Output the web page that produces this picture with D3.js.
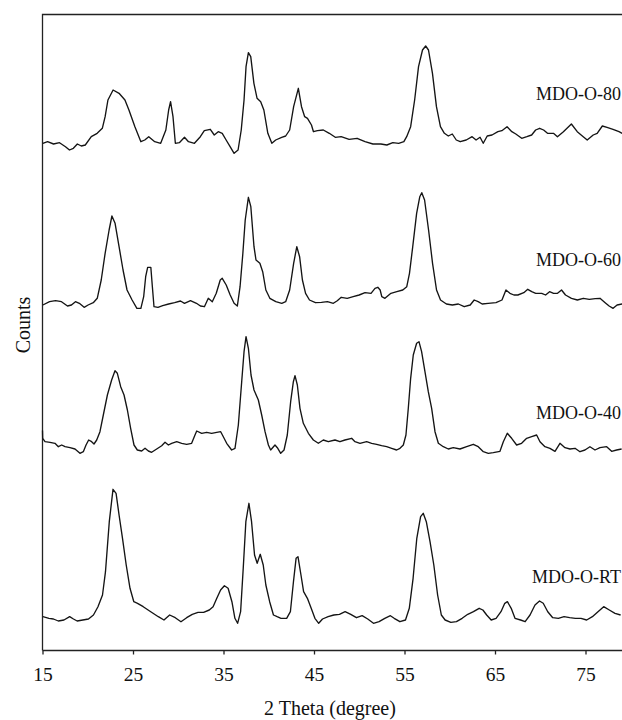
<!DOCTYPE html>
<html>
<head>
<meta charset="utf-8">
<script src="https://cdn.jsdelivr.net/npm/d3@7/dist/d3.min.js"></script>
<style>
    html, body { margin: 0; padding: 0; background: #ffffff; }
    svg { display: block; }
</style>
</head>
<body>
<script>
// 样品名称(从上到下)
var v_Labels   = ["MDO-O-80", "MDO-O-60", "MDO-O-40", "MDO-O-RT"];
// 每条曲线的纵向偏移(counts)
var v_Offsets  = [490, 340, 190, 20];
var v_XTicks   = [15, 25, 35, 45, 55, 65, 75];

// [2θ, counts]
var v_MDO_O_80 = [
    [15.04,17.2],[15.56,18.8],[16.22,16.5],[16.88,17.8],[17.54,13.8],[17.98,10.5],[18.41,12.2],[18.85,16.5],
    [19.29,14.5],[19.73,15.5],[20.39,23.8],[21.04,27.2],[21.61,32.2],[21.92,43.8],[22.23,60.5],[22.80,70.5],
    [23.46,67.2],[24.11,60.5],[24.55,50.5],[25.21,33.8],[25.87,18.8],[26.30,20.5],[26.74,23.8],[27.40,18.8],
    [28.06,17.2],[28.63,30.5],[28.94,50.5],[29.15,58.8],[29.42,43.8],[29.68,17.2],[30.12,17.8],[30.69,23.2],
    [31.13,18.8],[31.79,17.2],[32.44,23.8],[32.88,29.8],[33.54,31.2],[33.98,25.5],[34.42,28.8],[34.86,27.2],
    [35.29,20.5],[35.73,13.8],[36.17,7.2],[36.61,10.5],[36.96,30.5],[37.27,60.5],[37.49,93.8],[37.75,107.8],
    [38.01,103.8],[38.36,77.2],[38.71,62.2],[39.11,58.8],[39.46,50.5],[39.90,27.2],[40.34,17.2],[40.77,20.5],
    [41.43,23.2],[41.87,24.5],[42.31,30.5],[42.75,53.8],[43.27,72.2],[43.62,53.8],[43.97,43.8],[44.28,42.2],
    [44.72,35.5],[44.94,28.8],[45.38,29.8],[46.03,30.5],[46.69,27.2],[47.35,23.2],[48.00,23.8],[48.88,21.2],
    [49.76,22.2],[50.64,18.8],[51.51,16.5],[52.39,16.5],[53.05,15.5],[53.71,17.8],[54.36,17.2],[54.93,18.8],
    [55.24,23.8],[55.68,33.8],[56.12,60.5],[56.55,93.8],[56.99,110.5],[57.34,114.5],[57.65,110.5],[58.09,87.2],
    [58.53,53.8],[58.97,33.8],[59.41,27.2],[59.84,24.5],[60.28,26.5],[60.72,20.5],[61.16,18.8],[61.82,20.5],
    [62.47,23.8],[62.91,20.5],[63.35,23.2],[63.70,17.2],[64.14,24.5],[64.67,25.5],[65.32,28.8],[65.76,29.8],
    [66.33,33.8],[66.86,28.8],[67.30,26.5],[67.95,22.2],[68.52,23.8],[69.05,25.5],[69.49,30.5],[69.93,32.2],
    [70.37,30.5],[70.80,27.2],[71.46,27.2],[71.90,23.8],[72.56,28.8],[73.44,36.5],[74.09,28.8],[74.75,23.8],
    [75.19,20.5],[75.85,25.5],[76.29,27.2],[76.86,34.5],[77.38,33.2],[78.04,31.2],[78.70,28.8],[79.05,27.2]
];

var v_MDO_O_60 = [
    [15.04,5.5],[15.78,8.8],[16.44,9.8],[17.10,8.8],[17.76,4.5],[18.20,5.5],[18.64,8.8],[19.07,7.2],
    [19.60,3.2],[20.04,5.5],[20.61,7.8],[21.05,12.2],[21.49,30.5],[21.92,57.2],[22.36,80.5],[22.67,94.5],
    [23.02,87.2],[23.46,63.8],[23.90,40.5],[24.34,20.5],[24.90,10.5],[25.43,2.2],[25.87,2.2],[26.18,13.8],
    [26.40,33.8],[26.62,43.2],[26.97,43.2],[27.14,23.8],[27.32,3.8],[27.76,3.2],[28.28,4.8],[28.94,6.5],
    [29.60,7.8],[30.25,9.5],[30.69,7.2],[31.35,9.8],[32.01,7.2],[32.45,4.5],[32.89,3.8],[33.32,12.2],
    [33.76,8.8],[34.20,17.2],[34.64,30.5],[34.86,32.2],[35.30,25.5],[35.74,15.5],[36.17,7.2],[36.53,4.5],
    [36.83,23.8],[37.14,57.2],[37.40,90.5],[37.75,113.2],[38.02,103.8],[38.37,63.8],[38.59,50.5],[39.02,47.2],
    [39.33,38.8],[39.68,20.5],[40.12,12.2],[40.78,8.8],[41.44,7.2],[41.87,8.8],[42.31,20.5],[42.75,47.2],
    [43.10,63.8],[43.41,53.8],[43.72,30.5],[44.07,17.2],[44.50,10.5],[45.16,7.8],[45.82,8.2],[46.48,8.8],
    [47.14,7.2],[47.57,9.8],[48.01,13.2],[48.67,12.2],[49.33,13.8],[49.99,15.5],[50.64,17.8],[51.30,17.2],
    [51.74,22.2],[52.05,23.2],[52.31,20.5],[52.49,13.8],[52.84,12.2],[53.50,17.2],[54.15,18.8],[54.81,20.5],
    [55.25,23.8],[55.55,37.2],[55.91,63.8],[56.34,97.2],[56.69,113.8],[56.91,117.8],[57.22,110.5],[57.66,80.5],
    [58.10,47.2],[58.54,20.5],[58.98,10.5],[59.63,6.5],[60.29,5.5],[60.95,6.5],[61.60,3.8],[62.26,5.5],
    [62.70,10.5],[63.14,8.8],[63.58,6.5],[64.24,7.2],[65.11,7.8],[65.77,10.5],[66.21,20.5],[66.65,17.2],
    [67.09,15.5],[67.53,15.5],[68.18,17.8],[68.62,21.2],[69.06,18.8],[69.50,17.2],[70.16,17.2],[70.59,15.5],
    [71.03,18.8],[71.47,17.2],[71.91,17.2],[72.35,20.5],[72.79,15.5],[73.45,12.2],[74.10,10.5],[74.76,12.2],
    [75.42,11.2],[76.08,11.8],[76.60,12.2],[77.17,7.8],[77.61,4.5],[78.05,2.2],[78.49,5.5],[79.06,6.5]
];

var v_MDO_O_40 = [
    [15.00,30.0],[15.02,22.2],[15.28,18.8],[15.83,18.2],[16.38,17.2],[16.75,13.8],[17.12,15.5],[17.49,13.8],[18.04,12.8],
    [18.59,11.5],[19.14,7.2],[19.51,8.8],[19.81,15.5],[20.10,20.5],[20.43,18.8],[20.69,16.5],[20.99,20.5],
    [21.35,28.8],[21.72,45.5],[22.17,65.5],[22.64,80.5],[23.01,89.8],[23.27,87.2],[23.64,73.8],[24.01,65.5],
    [24.38,50.5],[24.74,32.2],[25.11,15.5],[25.48,10.5],[25.96,9.5],[26.33,12.2],[26.70,9.5],[27.06,8.2],
    [27.62,11.5],[28.17,14.8],[28.54,18.2],[28.91,15.5],[29.27,17.2],[29.83,18.8],[30.38,17.2],[30.93,16.2],
    [31.48,17.2],[31.85,25.5],[32.04,29.5],[32.59,27.2],[33.14,28.2],[33.69,27.2],[34.25,28.2],[34.69,28.8],
    [34.98,23.8],[35.35,17.2],[35.90,10.5],[36.27,12.2],[36.64,35.5],[37.01,78.8],[37.27,108.8],[37.49,123.8],
    [37.75,112.2],[38.04,85.5],[38.37,70.5],[38.85,60.5],[39.22,45.5],[39.59,28.8],[39.96,15.5],[40.21,10.5],
    [40.69,15.5],[40.95,12.8],[41.32,7.2],[41.69,10.5],[42.05,25.5],[42.42,58.8],[42.72,78.8],[42.90,84.8],
    [43.16,75.5],[43.45,52.2],[43.82,37.2],[44.38,27.2],[44.93,20.5],[45.48,17.2],[46.03,20.5],[46.58,18.8],
    [47.32,20.5],[47.87,18.8],[48.42,20.5],[49.16,22.2],[49.53,18.8],[50.08,17.2],[50.82,18.8],[51.37,17.2],
    [51.92,16.2],[52.47,14.8],[53.03,13.8],[53.58,12.2],[54.13,10.5],[54.50,12.2],[54.87,15.5],[55.16,25.5],
    [55.42,52.2],[55.68,82.2],[55.97,105.5],[56.34,117.2],[56.60,118.8],[56.89,108.8],[57.26,88.8],[57.63,68.8],
    [58.00,52.2],[58.37,28.8],[58.74,17.2],[59.29,13.8],[59.84,11.5],[60.39,12.8],[61.13,11.5],[61.87,13.8],
    [62.60,16.2],[63.15,13.8],[63.71,8.8],[64.26,7.2],[64.81,7.8],[65.55,9.2],[65.92,18.8],[66.36,27.2],
    [66.84,22.2],[67.39,15.5],[67.94,17.2],[68.50,22.2],[69.05,23.8],[69.60,25.5],[69.97,18.8],[70.52,13.8],
    [71.07,12.2],[71.63,9.2],[72.18,17.2],[72.73,12.8],[73.28,11.5],[73.84,12.2],[74.39,8.8],[74.94,10.5],
    [75.49,13.8],[76.05,10.5],[76.60,12.8],[77.34,13.8],[77.89,9.2],[78.44,10.5],[78.99,11.5]
];

var v_MDO_O_RT = [
    [15.05,13.8],[15.71,12.2],[16.21,11.5],[16.75,9.5],[17.37,10.5],[18.00,13.8],[18.42,11.5],[18.83,9.5],
    [19.46,10.5],[20.08,11.5],[20.63,15.5],[21.13,23.8],[21.63,35.5],[21.96,58.8],[22.38,108.8],[22.79,141.2],
    [23.13,137.2],[23.46,115.5],[23.84,92.2],[24.25,65.5],[24.67,42.2],[25.09,28.8],[25.50,27.2],[26.13,23.8],
    [26.96,18.8],[27.80,13.8],[28.42,10.5],[29.05,15.5],[29.67,12.8],[30.30,8.8],[30.93,12.8],[31.55,16.2],
    [32.18,18.2],[32.80,18.2],[33.43,20.5],[33.85,23.8],[34.26,32.2],[34.68,40.5],[35.10,44.8],[35.51,42.2],
    [35.93,28.8],[36.26,12.2],[36.56,7.2],[36.89,18.8],[37.18,62.2],[37.47,108.8],[37.81,127.2],[38.10,108.8],
    [38.43,75.5],[38.72,67.2],[39.06,76.2],[39.39,65.5],[39.68,45.5],[40.10,28.8],[40.52,15.5],[40.93,13.8],
    [41.35,12.2],[41.98,12.2],[42.39,18.8],[42.73,48.8],[43.02,72.2],[43.23,73.8],[43.56,55.5],[43.85,38.8],
    [44.27,32.2],[44.69,22.2],[45.10,12.2],[45.52,7.2],[45.94,11.5],[46.56,13.8],[47.19,15.5],[47.81,16.2],
    [48.44,18.8],[49.06,16.2],[49.69,12.8],[50.32,14.8],[50.94,11.5],[51.57,7.2],[52.19,8.8],[52.82,12.2],
    [53.44,14.8],[53.86,12.2],[54.49,8.8],[55.11,10.5],[55.53,22.2],[55.95,52.2],[56.36,92.2],[56.78,113.8],
    [57.07,117.2],[57.41,108.8],[57.82,88.8],[58.24,65.5],[58.66,35.5],[59.07,15.5],[59.49,10.5],[60.12,8.2],
    [60.74,8.8],[61.37,12.2],[61.99,16.2],[62.62,18.8],[63.25,22.2],[63.66,20.5],[64.08,15.5],[64.58,10.5],
    [65.12,12.2],[65.66,18.8],[66.08,27.2],[66.37,28.8],[66.79,22.2],[67.21,12.2],[67.83,10.5],[68.33,8.8],
    [68.87,15.5],[69.42,25.5],[69.92,29.5],[70.33,27.2],[70.83,18.8],[71.38,12.8],[72.00,12.2],[72.63,13.8],
    [73.25,12.8],[73.88,12.2],[74.50,12.2],[75.13,10.5],[75.76,13.8],[76.38,18.8],[77.01,23.8],[77.63,20.5],
    [78.26,17.2],[78.88,15.5]
];

var v_Series = [v_MDO_O_80, v_MDO_O_60, v_MDO_O_40, v_MDO_O_RT];


function drawChart()
{
    let v_Width  = 622;
    let v_Height = 720;
    let v_Left   = 42.5;
    let v_Top    = 14.5;
    let v_Bottom = 650.5;
    let v_Font   = "'Liberation Serif', 'Times New Roman', serif";

    let v_SVG = d3.select("body").append("svg")
        .attr("width",  v_Width)
        .attr("height", v_Height);

    // 右边框在画布之外(原图被裁切)
    let v_X = d3.scaleLinear().domain([15, 80]).range([v_Left, v_Left + 65 * 9.05]);
    let v_Y = d3.scaleLinear().domain([0, 636]).range([v_Bottom, v_Top]);

    // 边框
    v_SVG.append("path")
        .attr("d", "M" + v_Left + "," + v_Bottom + "V" + v_Top + "H" + (v_Width + 5))
        .attr("fill", "none")
        .attr("stroke", "#222")
        .attr("stroke-width", 1.3);

    // X轴
    let v_XAxis = v_SVG.append("g")
        .attr("transform", "translate(0," + v_Bottom + ")")
        .call(d3.axisBottom(v_X).tickValues(v_XTicks).tickSize(4).tickPadding(13).tickFormat(d3.format("d")));

    v_XAxis.select(".domain")
        .attr("d", "M" + v_Left + ",0H" + (v_Width + 5))
        .attr("stroke", "#222")
        .attr("stroke-width", 1.3);
    v_XAxis.selectAll(".tick line").attr("stroke", "#222").attr("stroke-width", 1.3);
    v_XAxis.selectAll(".tick text")
        .attr("fill", "#111")
        .style("font-family", v_Font)
        .style("font-size", "19.5px");

    v_SVG.append("text")
        .attr("x", 330)
        .attr("y", 715)
        .attr("text-anchor", "middle")
        .attr("fill", "#111")
        .style("font-family", v_Font)
        .style("font-size", "20px")
        .text("2 Theta (degree)");

    v_SVG.append("text")
        .attr("transform", "translate(29.5,325) rotate(-90)")
        .attr("text-anchor", "middle")
        .attr("fill", "#111")
        .style("font-family", v_Font)
        .style("font-size", "20px")
        .text("Counts");

    // 曲线
    for (let i = 0; i < v_Series.length; i++)
    {
        let v_Off  = v_Offsets[i];
        let v_Line = d3.line()
            .x(function (d) { return v_X(d[0]); })
            .y(function (d) { return v_Y(d[1] + v_Off); });

        v_SVG.append("path")
            .datum(v_Series[i])
            .attr("d", v_Line)
            .attr("fill", "none")
            .attr("stroke", "#141414")
            .attr("stroke-width", 1.35)
            .attr("stroke-linejoin", "round");
    }

    // 样品标签
    let v_LabelY = [100, 266, 419, 583];
    v_SVG.selectAll("text.label")
        .data(v_Labels)
        .enter()
        .append("text")
        .attr("class", "label")
        .attr("x", 621)
        .attr("y", function (d, i) { return v_LabelY[i]; })
        .attr("text-anchor", "end")
        .attr("fill", "#111")
        .style("font-family", v_Font)
        .style("font-size", "18px")
        .text(function (d) { return d; });
}

drawChart();
</script>
</body>
</html>
